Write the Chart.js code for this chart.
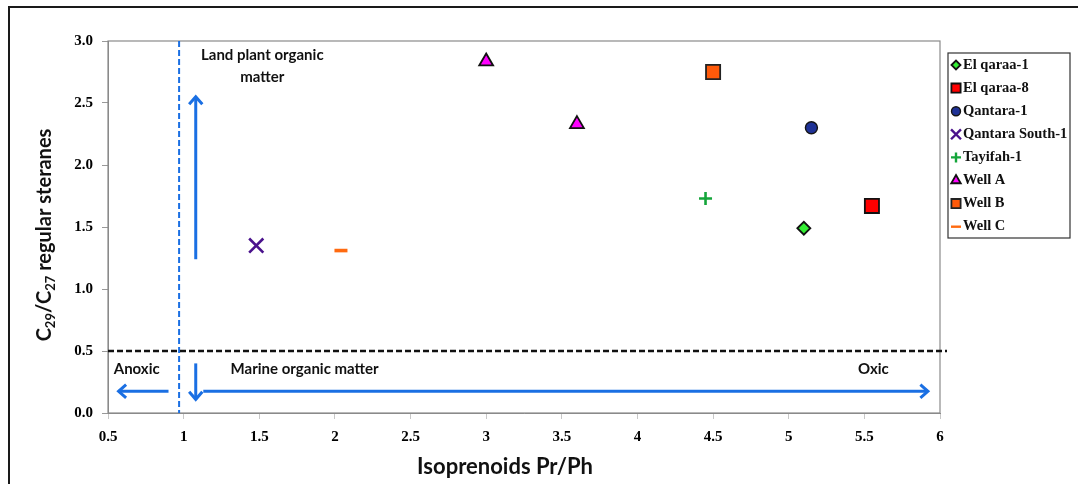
<!DOCTYPE html>
<html>
<head>
<meta charset="utf-8">
<script src="https://cdn.jsdelivr.net/npm/chart.js@4.4.1/dist/chart.umd.min.js"></script>
<style>
html,body{margin:0;padding:0;background:#fff;}
#wrap{width:1078px;height:484px;position:relative;}
</style>
</head>
<body>
<div id="wrap"><canvas id="c" width="1078" height="484"></canvas></div>
<script>
// ---------------- data ----------------
const seriesLabels   = ['El qaraa-1','El qaraa-8','Qantara-1','Qantara South-1','Tayifah-1','Well A','Well B','Well C'];
const seriesPrPh     = [[5.10],[5.55],[5.15],[1.48],[4.45],[3.00,3.60],[4.50],[2.04]];
const seriesSteranes = [[1.49],[1.67],[2.30],[1.35],[1.73],[2.835,2.33],[2.75],[1.31]];
const xTickValues = [0.5,1,1.5,2,2.5,3,3.5,4,4.5,5,5.5,6];
const xTickLabels = ['0.5','1','1.5','2','2.5','3','3.5','4','4.5','5','5.5','6'];
const yTickValues = [0,0.5,1,1.5,2,2.5,3];
const yTickLabels = ['0.0','0.5','1.0','1.5','2.0','2.5','3.0'];
const xTitle = 'Isoprenoids Pr/Ph';

// annotation values (data units)
const dividerPrPh = [0.97];
const thresholdSteranes = [0.5];
const arrowFromX = [1.08, 1.08, 0.90, 1.13];
const arrowFromY = [1.24, 0.40, 0.175, 0.175];
const arrowToX   = [1.08, 1.08, 0.57, 5.92];
const arrowToY   = [2.55, 0.11, 0.175, 0.175];
const noteTexts = ['Land plant organic','matter','Anoxic','Marine organic matter','Oxic'];
const noteX = [1.52, 1.52, 0.69, 1.80, 5.56];
const noteY = [2.885, 2.71, 0.355, 0.355, 0.355];

// ---------------- styles ----------------
const markerStyles  = ['rectRot','rect','circle','crossRot','cross','triangle','rect','line'];
const markerFills   = ['#33ee33','#ff0000','#1f3296','#4a128c','#14a53a','#ff00ff','#ff5a0a','#ff6a10'];
const markerBorders = ['#111111','#111111','#151515','#4a128c','#14a53a','#111111','#222222','#ff6a10'];
const markerRadii   = [6.5, 10, 6, 10, 6.5, 8, 10, 6.5];
const markerWidths  = [1.8, 1.8, 1.4, 2.6, 2.6, 1.8, 1.8, 3.6];
const legendRadii   = [4.5, 6.5, 4.5, 7, 5, 5.5, 6.5, 5];

const datasets = seriesLabels.map((lab,i)=>({
  label: lab,
  data: seriesPrPh[i].map((v,j)=>({x:v, y:seriesSteranes[i][j]})),
  pointStyle: markerStyles[i],
  backgroundColor: markerFills[i],
  borderColor: markerBorders[i],
  pointRadius: markerRadii[i],
  pointHoverRadius: markerRadii[i],
  borderWidth: markerWidths[i],
  showLine: false
}));

const BLUE = '#1a6fe3';

function drawArrow(ctx,x1,y1,x2,y2){
  const ang = Math.atan2(y2-y1,x2-x1), h = 10, sp = 0.72;
  ctx.beginPath(); ctx.moveTo(x1,y1); ctx.lineTo(x2,y2); ctx.stroke();
  ctx.beginPath();
  ctx.moveTo(x2 - h*Math.cos(ang-sp), y2 - h*Math.sin(ang-sp));
  ctx.lineTo(x2,y2);
  ctx.lineTo(x2 - h*Math.cos(ang+sp), y2 - h*Math.sin(ang+sp));
  ctx.stroke();
}

const framePlugin = {
  id:'frame',
  beforeDraw(chart){
    const ctx = chart.ctx;
    ctx.save();
    ctx.fillStyle='#fff'; ctx.fillRect(0,0,chart.width,chart.height);
    ctx.strokeStyle='#1a1a1a'; ctx.lineWidth=2;
    ctx.beginPath(); ctx.moveTo(9,484); ctx.lineTo(9,7); ctx.lineTo(1078,7); ctx.stroke();
    ctx.restore();
  }
};

const annotPlugin = {
  id:'annot',
  beforeDatasetsDraw(chart){
    const {ctx, chartArea:a, scales:{x,y}} = chart;
    ctx.save();
    // plot border
    ctx.strokeStyle='#8a8a8a'; ctx.lineWidth=1.2;
    ctx.strokeRect(a.left, a.top, a.right-a.left, a.bottom-a.top);
    // vertical blue dashed divider
    ctx.strokeStyle=BLUE; ctx.lineWidth=2; ctx.setLineDash([6,3]);
    const vx = x.getPixelForValue(dividerPrPh[0]);
    ctx.beginPath(); ctx.moveTo(vx,a.top); ctx.lineTo(vx,a.bottom); ctx.stroke();
    // horizontal black dashed threshold
    ctx.strokeStyle='#111'; ctx.lineWidth=2.3; ctx.setLineDash([6,3]);
    const hy = y.getPixelForValue(thresholdSteranes[0]);
    ctx.beginPath(); ctx.moveTo(a.left,hy); ctx.lineTo(a.right+7,hy); ctx.stroke();
    ctx.setLineDash([]);
    // arrows
    ctx.strokeStyle=BLUE; ctx.lineWidth=3; ctx.lineJoin='miter';
    for(let i=0;i<arrowFromX.length;i++){
      drawArrow(ctx, x.getPixelForValue(arrowFromX[i]), y.getPixelForValue(arrowFromY[i]),
                     x.getPixelForValue(arrowToX[i]), y.getPixelForValue(arrowToY[i]));
    }
    // notes
    ctx.fillStyle='#111'; ctx.font='bold 15px Lato'; ctx.textAlign='center'; ctx.textBaseline='middle';
    for(let i=0;i<noteTexts.length;i++){
      ctx.fillText(noteTexts[i], x.getPixelForValue(noteX[i]), y.getPixelForValue(noteY[i]));
    }
    ctx.restore();
  }
};

const titlesPlugin = {
  id:'titles',
  afterDraw(chart){
    const {ctx, chartArea:a} = chart;
    // x title
    ctx.save();
    ctx.fillStyle='#111'; ctx.font='bold 22px Lato'; ctx.textAlign='center'; ctx.textBaseline='middle';
    ctx.fillText(xTitle, (a.left+a.right)/2 - 19, 467);
    ctx.restore();
    // y title with subscripts
    const parts = [['C',0],['29',1],['/C',0],['27',1],[' regular steranes',0]];
    const big='bold 20px Lato', small='bold 13px Lato';
    ctx.save();
    let total=0;
    parts.forEach(p=>{ctx.font=p[1]?small:big; total+=ctx.measureText(p[0]).width;});
    ctx.translate(44, 235);
    ctx.rotate(-Math.PI/2);
    ctx.fillStyle='#111'; ctx.textBaseline='alphabetic'; ctx.textAlign='left';
    let cx=-total/2;
    parts.forEach(p=>{
      ctx.font=p[1]?small:big;
      ctx.fillText(p[0], cx, p[1]?11:7);
      cx+=ctx.measureText(p[0]).width;
    });
    ctx.restore();
  }
};

const legendPlugin = {
  id:'customLegend',
  afterDraw(chart){
    const {ctx, chartArea:a} = chart;
    const L = a.right + 8, T = a.top + 12, W = 122, H = 185;
    ctx.save();
    ctx.strokeStyle='#333'; ctx.lineWidth=1.2;
    ctx.strokeRect(L, T, W, H);
    ctx.font='bold 14.5px "Liberation Serif"'; ctx.textBaseline='middle'; ctx.textAlign='left';
    chart.data.datasets.forEach((ds,i)=>{
      const yy = T + 12 + i*23.1;
      const mx = L + 8;
      ctx.fillStyle = ds.backgroundColor; ctx.strokeStyle = ds.borderColor;
      ctx.lineWidth = Math.min(ds.borderWidth, 2.4);
      Chart.helpers.drawPoint(ctx, {pointStyle: ds.pointStyle, radius: legendRadii[i], borderWidth: ctx.lineWidth, rotation: 0}, mx, yy);
      ctx.fillStyle='#111';
      ctx.fillText(ds.label, L + 15, yy);
    });
    ctx.restore();
  }
};

const tickFont = {family:'"Liberation Serif"', weight:'bold', size:15};

new Chart(document.getElementById('c'), {
  type:'scatter',
  data:{datasets},
  options:{
    responsive:false,
    animation:false,
    devicePixelRatio:1,
    layout:{padding:{left:0, right:138, top:41, bottom:0}},
    plugins:{legend:{display:false}, tooltip:{enabled:false}},
    scales:{
      x:{
        type:'linear', min:0.5, max:6,
        afterBuildTicks: s => { s.ticks = xTickValues.map(v=>({value:v})); },
        afterFit: s => { s.height = 71; },
        ticks:{font:tickFont, color:'#000', padding:9, autoSkip:false, maxRotation:0,
               callback:(v)=>{const k=xTickValues.indexOf(v); return k>=0?xTickLabels[k]:'';}},
        grid:{display:true, drawOnChartArea:false, drawTicks:true, tickLength:6, color:'#c8c8c8'},
        border:{display:true, color:'#8a8a8a'}
      },
      y:{
        type:'linear', min:0, max:3,
        afterBuildTicks: s => { s.ticks = yTickValues.map(v=>({value:v})); },
        afterFit: s => { s.width = 108; },
        ticks:{font:tickFont, color:'#000', padding:9, callback:(v)=>{const k=yTickValues.indexOf(v); return k>=0?yTickLabels[k]:'';}},
        grid:{display:true, drawOnChartArea:false, drawTicks:true, tickLength:6, color:'#999'},
        border:{display:true, color:'#8a8a8a'}
      }
    }
  },
  plugins:[framePlugin, annotPlugin, titlesPlugin, legendPlugin]
});
</script>
</body>
</html>
